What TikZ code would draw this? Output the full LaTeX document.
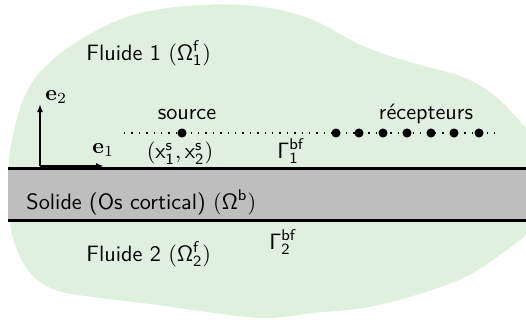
\documentclass[tikz,border=0pt]{standalone}
\usetikzlibrary{arrows.meta}
\definecolor{fluid}{RGB}{223,240,223}
\definecolor{bone}{RGB}{190,190,190}
\newcommand{\sfm}[1]{\mathsf{#1}}
\begin{document}
\begin{tikzpicture}[x=1pt,y=-1pt,
  every node/.style={font=\fontsize{10}{12}\selectfont\sffamily, inner sep=0pt, scale=2.22},
  interface/.style={line width=3pt},
  axis/.style={line width=1.8pt, -{Latex[length=8pt,width=6pt]}},
  probe/.style={circle, fill=black, minimum size=4.1pt, inner sep=0pt},
  dotline/.style={line width=1.4pt, dash pattern=on 1.4pt off 6pt}]
\useasboundingbox (0,0) rectangle (526,322);
\begin{scope}
\clip (0,0) rectangle (526,322);
\fill[fluid] plot[smooth cycle, tension=0.6] coordinates {
 (10,221) (15,244) (25,266) (40,282) (62,292) (100,298) (150,304) (200,311)
 (263,318) (313,313) (363,308) (413,296) (463,278) (500,255) (535,225)
 (552,185) (545,150) (526,128) (496,97) (463,77) (413,63) (363,46)
 (313,20) (263,7) (200,5) (133,15) (80,40) (42,70) (23,100) (12,140) (9,168)};
\end{scope}
% bone layer
\coordinate (T0) at (8,168);
\coordinate (T1) at (526,168);
\coordinate (B0) at (8,220);
\coordinate (B1) at (526,220);
\fill[bone] (T0) rectangle (B1);
\draw[interface] (T0) -- (T1);
\draw[interface] (B0) -- (B1);
% axes
\coordinate (O) at (40,166);
\coordinate (E1) at (104,166);
\coordinate (E2) at (40,104);
\draw[axis] (O) -- (E1);
\draw[axis] (O) -- (E2);
\node[anchor=west] (e1) at (92,150) {$\mathbf{e}_1$};
\node[anchor=west] (e2) at (45,97) {$\mathbf{e}_2$};
% probes line
\coordinate (D0) at (124,133);
\coordinate (D1) at (497,133);
\draw[dotline] (D0) -- (D1);
\node[probe] (src) at (182,133) {};
\node[probe] (r1) at (336,133) {};
\node[probe] (r2) at (359,133) {};
\node[probe] (r3) at (383,133) {};
\node[probe] (r4) at (407,133) {};
\node[probe] (r5) at (431,133) {};
\node[probe] (r6) at (454,133) {};
\node[probe] (r7) at (479,133) {};
\node[anchor=base] (lsrc) at (187,119) {source};
\node[anchor=base] (lrec) at (426,119) {récepteurs};
\node (lxs) at (180,153) {$(\sfm{x}^{\sfm{s}}_{\sfm{1}},\sfm{x}^{\sfm{s}}_{\sfm{2}})$};
\node[anchor=base west] (g1) at (277,158) {$\sfm{\Gamma}^{\sfm{bf}}_{\sfm{1}}$};
\node[anchor=base west] (g2) at (269,249) {$\sfm{\Gamma}^{\sfm{bf}}_{\sfm{2}}$};
% labels
\node[anchor=base west] (f1) at (86,60) {Fluide 1 $(\sfm{\Omega}^{\sfm{f}}_{\sfm{1}})$};
\node[anchor=base west] (sol) at (26,209) {Solide (Os cortical) $(\sfm{\Omega}^{\sfm{b}})$};
\node[anchor=base west] (f2) at (86,261) {Fluide 2 $(\sfm{\Omega}^{\sfm{f}}_{\sfm{2}})$};
\end{tikzpicture}
\end{document}
